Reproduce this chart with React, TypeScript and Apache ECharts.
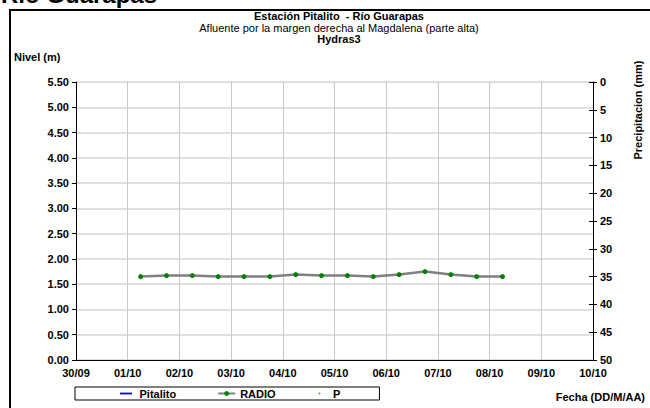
import React, { useEffect, useRef } from "react";
import * as echarts from "echarts";

const xTickLabels = ["30/09", "01/10", "02/10", "03/10", "04/10", "05/10", "06/10", "07/10", "08/10", "09/10", "10/10"];
// RADIO readings: day offset from 30/09 00:00 (06:00 and 18:00 readings)
const radioDays = [1.25, 1.75, 2.25, 2.75, 3.25, 3.75, 4.25, 4.75, 5.25, 5.75, 6.25, 6.75, 7.25, 7.75, 8.25];
const radioLevel = [1.65, 1.67, 1.67, 1.65, 1.65, 1.65, 1.69, 1.67, 1.67, 1.65, 1.69, 1.75, 1.69, 1.65, 1.65];
const pitalitoLevel: number[][] = [];
const precipitation: number[][] = [];

const FONT = "'Liberation Sans', Arial, sans-serif";

export default function App() {
  const ref = useRef<HTMLDivElement>(null);
  useEffect(() => {
    if (!ref.current) return;
    const chart = echarts.init(ref.current, undefined, { renderer: "svg" });
    const radioData = radioDays.map((d, i) => [d, radioLevel[i]]);
    chart.setOption({
      animation: false,
      backgroundColor: "#ffffff",
      textStyle: { fontFamily: FONT },
      title: [
        {
          text: "Estación Pitalito  - Río Guarapas",
          left: 334,
          top: 5,
          textAlign: "center",
          textStyle: { fontFamily: FONT, fontSize: 11, fontWeight: "bold", color: "#000" },
        },
        {
          text: "Afluente por la margen derecha al Magdalena (parte alta)",
          left: 334,
          top: 17,
          textAlign: "center",
          textStyle: { fontFamily: FONT, fontSize: 11, fontWeight: "normal", color: "#000" },
        },
        {
          text: "Hydras3",
          left: 334,
          top: 28,
          textAlign: "center",
          textStyle: { fontFamily: FONT, fontSize: 11, fontWeight: "bold", color: "#000" },
        },
      ],
      grid: { left: 76, right: 57, top: 82, bottom: 48, containLabel: false },
      legend: {
        left: 75,
        top: 387,
        orient: "horizontal",
        borderColor: "#000",
        borderWidth: 1,
        borderRadius: 0,
        padding: [1, 39, 1, 45],
        itemWidth: 17,
        itemHeight: 6,
        itemGap: 41,
        textStyle: { fontFamily: FONT, fontSize: 11, fontWeight: "bold", color: "#000" },
        data: [
          { name: "Pitalito", icon: "path://M0,0M20,10M0,3.5h20v3h-20z" },
          { name: "RADIO" },
          { name: "P", icon: "path://M0,0M10,10M3.5,5a1.5,1.5 0 1,0 3,0a1.5,1.5 0 1,0 -3,0z" },
        ],
      },
      xAxis: {
        type: "value",
        min: 0,
        max: 10,
        interval: 1,
        axisLine: { show: true, lineStyle: { color: "#000", width: 1 } },
        axisTick: { show: false },
        axisLabel: {
          margin: 7,
          fontFamily: FONT,
          fontSize: 11,
          fontWeight: "bold",
          color: "#000",
          formatter: (v: number) => xTickLabels[Math.round(v)] ?? "",
        },
        splitLine: { show: true, lineStyle: { color: "#c8c8c8", width: 1 } },
      },
      yAxis: [
        {
          type: "value",
          min: 0,
          max: 5.5,
          interval: 0.5,
          position: "left",
          axisLine: { show: true, lineStyle: { color: "#000", width: 1 } },
          axisTick: { show: true, inside: false, length: 4, lineStyle: { color: "#000" } },
          axisLabel: {
            margin: 7,
            fontFamily: FONT,
            fontSize: 11,
            fontWeight: "bold",
            color: "#000",
            formatter: (v: number) => v.toFixed(2),
          },
          splitLine: { show: true, lineStyle: { color: "#d4d4d4", width: 1.5 } },
        },
        {
          type: "value",
          min: 0,
          max: 50,
          interval: 5,
          inverse: true,
          position: "right",
          axisLine: { show: true, lineStyle: { color: "#000", width: 1 } },
          axisTick: { show: true, inside: false, length: 4, lineStyle: { color: "#000" } },
          axisLabel: { margin: 7, fontFamily: FONT, fontSize: 11, fontWeight: "bold", color: "#000" },
          splitLine: { show: false },
        },
        {
          type: "value",
          min: 0,
          max: 50,
          interval: 5,
          inverse: true,
          position: "right",
          axisLine: { show: false },
          axisTick: { show: true, inside: true, length: 4, lineStyle: { color: "#000" } },
          axisLabel: { show: false },
          splitLine: { show: false },
        },
      ],
      series: [
        {
          name: "Pitalito",
          type: "line",
          yAxisIndex: 0,
          data: pitalitoLevel,
          symbol: "none",
          itemStyle: { color: "#0000ff" },
          lineStyle: { color: "#0000ff", width: 2 },
        },
        {
          name: "RADIO",
          type: "line",
          yAxisIndex: 0,
          data: radioData,
          symbol: "circle",
          symbolSize: 5,
          itemStyle: { color: "#008000" },
          lineStyle: { color: "#808080", width: 2.5 },
          z: 3,
        },
        {
          name: "P",
          type: "scatter",
          yAxisIndex: 1,
          data: precipitation,
          symbolSize: 3,
          itemStyle: { color: "#008000" },
        },
      ],
      graphic: [
        {
          type: "rect",
          shape: { x: 10, y: 10, width: 700, height: 450 },
          style: { fill: "none", stroke: "#000", lineWidth: 2 },
          silent: true,
        },
        {
          type: "text",
          x: 1,
          y: 6,
          style: { text: "Río Guarapas", fontFamily: FONT, fontSize: 24, fontWeight: "bold", fill: "#000", verticalAlign: "bottom" },
        },
        {
          type: "text",
          x: 14,
          y: 57,
          style: { text: "Nivel (m)", fontFamily: FONT, fontSize: 11, fontWeight: "bold", fill: "#000", verticalAlign: "middle" },
        },
        {
          type: "text",
          x: 638,
          y: 110,
          rotation: Math.PI / 2,
          style: {
            text: "Precipitacion (mm)",
            fontFamily: FONT,
            fontSize: 11,
            fontWeight: "bold",
            fill: "#000",
            align: "center",
            verticalAlign: "middle",
          },
        },
        {
          type: "text",
          x: 645,
          y: 397,
          style: {
            text: "Fecha (DD/M/AA)",
            fontFamily: FONT,
            fontSize: 11,
            fontWeight: "bold",
            fill: "#000",
            align: "right",
            verticalAlign: "middle",
          },
        },
      ],
    });
    return () => chart.dispose();
  }, []);
  return (
    <div
      ref={ref}
      style={{ position: "absolute", left: 0, top: 0, width: 650, height: 408 }}
    />
  );
}
